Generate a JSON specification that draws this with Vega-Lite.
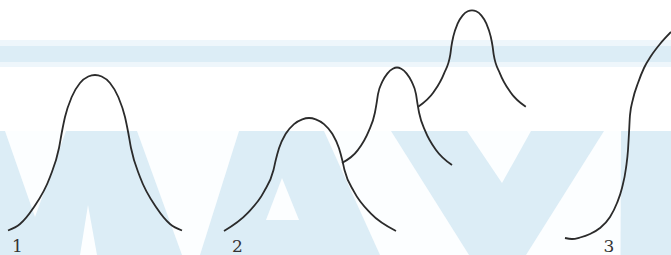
{
  "$schema": "https://vega.github.io/schema/vega-lite/v6.json",
  "width": 671,
  "height": 255,
  "autosize": {"type": "none"},
  "padding": 0,
  "background": "white",
  "config": {"view": {"stroke": null}, "axis": {"disable": true}},
  "datasets": {
    "bandOuter": [{"x": 0, "x2": 671, "y": 40, "y2": 67}],
    "bandInner": [{"x": 0, "x2": 671, "y": 46, "y2": 62}],
    "block": [{"x": 0, "x2": 671, "y": 131, "y2": 255}],
    "gaps": [
      {"shape": "a", "x": 5, "y": 131, "y2": 131},
      {"shape": "a", "x": 35, "y": 131, "y2": 217},
      {"shape": "a", "x": 66, "y": 131, "y2": 131},
      {"shape": "b", "x": 137, "y": 131, "y2": 131},
      {"shape": "b", "x": 182, "y": 131, "y2": 255},
      {"shape": "b", "x": 200, "y": 131, "y2": 255},
      {"shape": "b", "x": 239, "y": 131, "y2": 131},
      {"shape": "h1", "x": 80, "y": 255, "y2": 255},
      {"shape": "h1", "x": 88, "y": 205, "y2": 255},
      {"shape": "h1", "x": 97, "y": 255, "y2": 255},
      {"shape": "h2", "x": 266, "y": 220, "y2": 220},
      {"shape": "h2", "x": 282, "y": 178, "y2": 220},
      {"shape": "h2", "x": 299, "y": 220, "y2": 220},
      {"shape": "c", "x": 324, "y": 131, "y2": 131},
      {"shape": "c", "x": 380, "y": 131, "y2": 255},
      {"shape": "c", "x": 391, "y": 131, "y2": 255},
      {"shape": "c", "x": 469, "y": 255, "y2": 255},
      {"shape": "v", "x": 467, "y": 131, "y2": 131},
      {"shape": "v", "x": 502, "y": 131, "y2": 183},
      {"shape": "v", "x": 531, "y": 131, "y2": 131},
      {"shape": "d", "x": 526, "y": 255, "y2": 255},
      {"shape": "d", "x": 604, "y": 131, "y2": 255},
      {"shape": "d", "x": 620.5, "y": 131, "y2": 255},
      {"shape": "d", "x": 621, "y": 131, "y2": 131}
    ],
    "curves": [
      {"curve": "1", "x": 8, "y": 230.5},
      {"curve": "1", "x": 20, "y": 224},
      {"curve": "1", "x": 33.3, "y": 208},
      {"curve": "1", "x": 50, "y": 177},
      {"curve": "1", "x": 59, "y": 148},
      {"curve": "1", "x": 61.7, "y": 133},
      {"curve": "1", "x": 65, "y": 117},
      {"curve": "1", "x": 71.7, "y": 97},
      {"curve": "1", "x": 80, "y": 83},
      {"curve": "1", "x": 88.3, "y": 76.5},
      {"curve": "1", "x": 95, "y": 75},
      {"curve": "1", "x": 101.7, "y": 76.5},
      {"curve": "1", "x": 110, "y": 83},
      {"curve": "1", "x": 118.3, "y": 97},
      {"curve": "1", "x": 125, "y": 117},
      {"curve": "1", "x": 128.3, "y": 133},
      {"curve": "1", "x": 131, "y": 148},
      {"curve": "1", "x": 140, "y": 177},
      {"curve": "1", "x": 156.7, "y": 208},
      {"curve": "1", "x": 170, "y": 224},
      {"curve": "1", "x": 182, "y": 230.5},

      {"curve": "2a", "x": 224, "y": 231},
      {"curve": "2a", "x": 247.3, "y": 213.4},
      {"curve": "2a", "x": 264, "y": 191.7},
      {"curve": "2a", "x": 273.5, "y": 170},
      {"curve": "2a", "x": 275.7, "y": 160.3},
      {"curve": "2a", "x": 279, "y": 148.2},
      {"curve": "2a", "x": 285.7, "y": 133.8},
      {"curve": "2a", "x": 294, "y": 124.1},
      {"curve": "2a", "x": 302.3, "y": 119.3},
      {"curve": "2a", "x": 309, "y": 118},
      {"curve": "2a", "x": 315.7, "y": 119.3},
      {"curve": "2a", "x": 324, "y": 124.1},
      {"curve": "2a", "x": 332.3, "y": 133.8},
      {"curve": "2a", "x": 339, "y": 148.2},
      {"curve": "2a", "x": 342.3, "y": 160.3},
      {"curve": "2a", "x": 344.5, "y": 170},
      {"curve": "2a", "x": 354, "y": 191.7},
      {"curve": "2a", "x": 370.7, "y": 213.4},
      {"curve": "2a", "x": 396, "y": 231},

      {"curve": "2b", "x": 342, "y": 163},
      {"curve": "2b", "x": 358, "y": 149.9},
      {"curve": "2b", "x": 368.6, "y": 131.3},
      {"curve": "2b", "x": 374.9, "y": 112.7},
      {"curve": "2b", "x": 376.4, "y": 104.4},
      {"curve": "2b", "x": 378, "y": 94.1},
      {"curve": "2b", "x": 382.3, "y": 81.7},
      {"curve": "2b", "x": 387.5, "y": 73.4},
      {"curve": "2b", "x": 392.8, "y": 68.8},
      {"curve": "2b", "x": 397, "y": 67.5},
      {"curve": "2b", "x": 401.2, "y": 68.8},
      {"curve": "2b", "x": 406.5, "y": 73.4},
      {"curve": "2b", "x": 411.7, "y": 81.7},
      {"curve": "2b", "x": 416, "y": 94.1},
      {"curve": "2b", "x": 417.6, "y": 104.4},
      {"curve": "2b", "x": 419.1, "y": 112.7},
      {"curve": "2b", "x": 425.4, "y": 131.3},
      {"curve": "2b", "x": 436, "y": 149.9},
      {"curve": "2b", "x": 452, "y": 165},

      {"curve": "2c", "x": 418.2, "y": 106.8},
      {"curve": "2c", "x": 433.7, "y": 92},
      {"curve": "2c", "x": 444.1, "y": 73.3},
      {"curve": "2c", "x": 450.3, "y": 54.7},
      {"curve": "2c", "x": 451.4, "y": 46.4},
      {"curve": "2c", "x": 453.4, "y": 36.1},
      {"curve": "2c", "x": 457.6, "y": 23.7},
      {"curve": "2c", "x": 462.7, "y": 15.4},
      {"curve": "2c", "x": 467.8, "y": 11.3},
      {"curve": "2c", "x": 472, "y": 10.3},
      {"curve": "2c", "x": 476.2, "y": 11.3},
      {"curve": "2c", "x": 481.3, "y": 15.4},
      {"curve": "2c", "x": 486.4, "y": 23.7},
      {"curve": "2c", "x": 490.6, "y": 36.1},
      {"curve": "2c", "x": 492.6, "y": 46.4},
      {"curve": "2c", "x": 493.7, "y": 54.7},
      {"curve": "2c", "x": 499.9, "y": 73.3},
      {"curve": "2c", "x": 510.3, "y": 92},
      {"curve": "2c", "x": 525.8, "y": 106.8},

      {"curve": "3", "x": 565, "y": 238},
      {"curve": "3", "x": 572, "y": 239},
      {"curve": "3", "x": 580, "y": 237.5},
      {"curve": "3", "x": 590, "y": 234},
      {"curve": "3", "x": 600, "y": 228},
      {"curve": "3", "x": 610, "y": 217},
      {"curve": "3", "x": 617, "y": 203},
      {"curve": "3", "x": 622, "y": 188},
      {"curve": "3", "x": 626, "y": 168},
      {"curve": "3", "x": 628, "y": 150},
      {"curve": "3", "x": 629, "y": 133},
      {"curve": "3", "x": 630, "y": 115},
      {"curve": "3", "x": 633, "y": 99},
      {"curve": "3", "x": 638, "y": 83},
      {"curve": "3", "x": 644, "y": 68},
      {"curve": "3", "x": 651, "y": 56},
      {"curve": "3", "x": 660, "y": 44},
      {"curve": "3", "x": 671, "y": 32}
    ],
    "labels": [
      {"label": "1", "x": 17.5, "y": 251.5},
      {"label": "2", "x": 237.5, "y": 251.5},
      {"label": "3", "x": 609, "y": 251.5}
    ]
  },
  "layer": [
    {
      "data": {"name": "bandOuter"},
      "mark": {"type": "rect", "color": "#eef6fb"},
      "encoding": {
        "x": {"field": "x", "type": "quantitative", "scale": {"domain": [0, 671], "nice": false, "zero": false}},
        "x2": {"field": "x2"},
        "y": {"field": "y", "type": "quantitative", "scale": {"domain": [0, 255], "nice": false, "zero": false, "reverse": true}},
        "y2": {"field": "y2"}
      }
    },
    {
      "data": {"name": "bandInner"},
      "mark": {"type": "rect", "color": "#dcedf6"},
      "encoding": {
        "x": {"field": "x", "type": "quantitative"},
        "x2": {"field": "x2"},
        "y": {"field": "y", "type": "quantitative"},
        "y2": {"field": "y2"}
      }
    },
    {
      "data": {"name": "block"},
      "mark": {"type": "rect", "color": "#dcedf6"},
      "encoding": {
        "x": {"field": "x", "type": "quantitative"},
        "x2": {"field": "x2"},
        "y": {"field": "y", "type": "quantitative"},
        "y2": {"field": "y2"}
      }
    },
    {
      "data": {"name": "gaps"},
      "mark": {"type": "area", "color": "#fcfeff", "interpolate": "linear", "opacity": 1},
      "encoding": {
        "x": {"field": "x", "type": "quantitative"},
        "y": {"field": "y", "type": "quantitative", "stack": null},
        "y2": {"field": "y2"},
        "detail": {"field": "shape", "type": "nominal"}
      }
    },
    {
      "data": {"name": "curves"},
      "mark": {"type": "line", "color": "#2b2b2b", "strokeWidth": 1.8, "interpolate": "monotone"},
      "encoding": {
        "x": {"field": "x", "type": "quantitative"},
        "y": {"field": "y", "type": "quantitative"},
        "detail": {"field": "curve", "type": "nominal"}
      }
    },
    {
      "data": {"name": "labels"},
      "mark": {"type": "text", "font": "DejaVu Serif", "fontSize": 17, "color": "#333333", "baseline": "alphabetic", "align": "center"},
      "encoding": {
        "x": {"field": "x", "type": "quantitative"},
        "y": {"field": "y", "type": "quantitative"},
        "text": {"field": "label", "type": "nominal"}
      }
    }
  ]
}
